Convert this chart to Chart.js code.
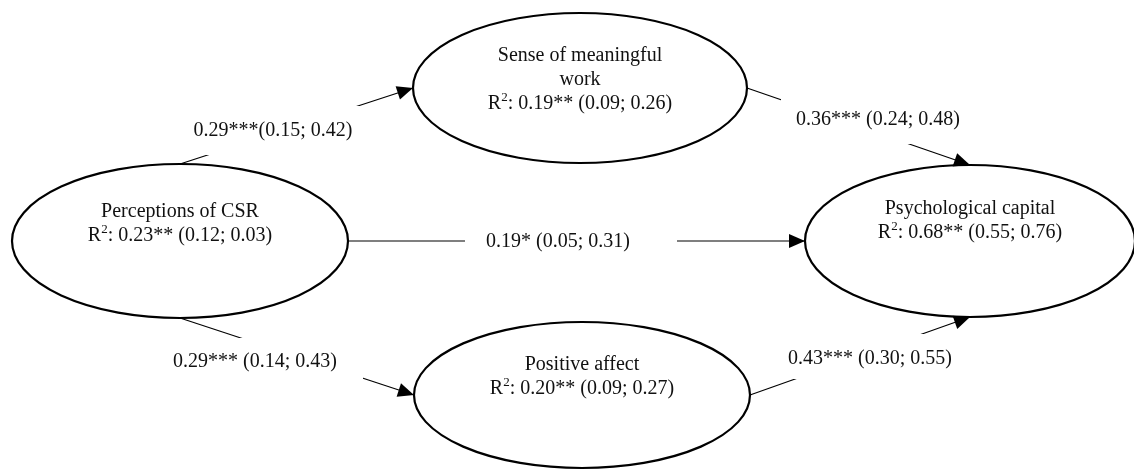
<!DOCTYPE html>
<html>
<head>
<meta charset="utf-8">
<script src="https://cdn.jsdelivr.net/npm/chart.js"></script>
<style>
  body { margin: 0; background: #fff; }
  .wrap { width: 1134px; height: 472px; position: relative; }
</style>
</head>
<body>
<div class="wrap"><canvas id="model"></canvas></div>
<script>
// constructs and their R2 (with CI)
const nodeNames = ['Perceptions of CSR', 'Sense of meaningful\nwork', 'Positive affect', 'Psychological capital'];
const nodeR2 = ['0.23** (0.12; 0.03)', '0.19** (0.09; 0.26)', '0.20** (0.09; 0.27)', '0.68** (0.55; 0.76)'];

// paths between constructs
const pathFrom = [0, 1, 0, 0, 2];
const pathTo = [1, 3, 3, 2, 3];
const pathFromSide = ['top', 'right', 'right', 'bottom', 'right'];
const pathToSide = ['left', 'top', 'left', 'left', 'bottom'];
const pathLabels = ['0.29***(0.15; 0.42)', '0.36*** (0.24; 0.48)', '0.19* (0.05; 0.31)', '0.29*** (0.14; 0.43)', '0.43*** (0.30; 0.55)'];

// layout (diagram units = px of the 1134x472 picture)
const nodeLayout = [
  { x: 180, y: 241, rx: 168, ry: 77, textY: 217 },
  { x: 580, y: 88, rx: 167, ry: 75, textY: 61 },
  { x: 582, y: 395, rx: 168, ry: 73, textY: 370 },
  { x: 970, y: 241, rx: 165, ry: 76, textY: 214 }
];
const labelLayout = [
  { tx: 273, ty: 136, box: [188, 106, 361, 155] },
  { tx: 878, ty: 125, box: [781, 99, 965, 144] },
  { tx: 558, ty: 247, box: [465, 230, 677, 254] },
  { tx: 255, ty: 367, box: [168, 338, 363, 380] },
  { tx: 870, ty: 364, box: [780, 334, 960, 379] }
];
const FONT = '"Liberation Serif", "Times New Roman", serif';

function anchor(i, side) {
  const n = nodeLayout[i];
  if (side === 'top') return { x: n.x, y: n.y - n.ry };
  if (side === 'bottom') return { x: n.x, y: n.y + n.ry };
  if (side === 'left') return { x: n.x - n.rx, y: n.y };
  return { x: n.x + n.rx, y: n.y };
}

const pathData = pathFrom.map((f, k) => [anchor(f, pathFromSide[k]), anchor(pathTo[k], pathToSide[k])]);

const diagramPlugin = {
  id: 'diagram',
  afterDatasetsDraw(chart) {
    const ctx = chart.ctx;
    const sx = chart.scales.x, sy = chart.scales.y;
    const px = v => sx.getPixelForValue(v);
    const py = v => sy.getPixelForValue(v);
    ctx.save();

    // label boxes (white) and label text
    labelLayout.forEach((l, k) => {
      ctx.fillStyle = '#fff';
      ctx.fillRect(px(l.box[0]), py(l.box[1]), px(l.box[2]) - px(l.box[0]), py(l.box[3]) - py(l.box[1]));
      ctx.fillStyle = '#111';
      ctx.font = '20px ' + FONT;
      ctx.textAlign = 'center';
      ctx.textBaseline = 'alphabetic';
      ctx.fillText(pathLabels[k], px(l.tx), py(l.ty));
    });

    // ellipses
    nodeLayout.forEach(n => {
      ctx.beginPath();
      ctx.ellipse(px(n.x), py(n.y), px(n.x + n.rx) - px(n.x), py(n.y + n.ry) - py(n.y), 0, 0, Math.PI * 2);
      ctx.fillStyle = '#fff';
      ctx.fill();
      ctx.lineWidth = 2.2;
      ctx.strokeStyle = '#000';
      ctx.stroke();
    });

    // node text
    nodeLayout.forEach((n, i) => {
      const lines = nodeNames[i].split('\n');
      let y = py(n.textY);
      ctx.fillStyle = '#111';
      ctx.textBaseline = 'alphabetic';
      ctx.font = '20px ' + FONT;
      ctx.textAlign = 'center';
      lines.forEach(t => { ctx.fillText(t, px(n.x), y); y += 24; });
      // R2 line with superscript
      const rest = ': ' + nodeR2[i];
      ctx.font = '20px ' + FONT;
      const wR = ctx.measureText('R').width, wRest = ctx.measureText(rest).width;
      ctx.font = '13px ' + FONT;
      const w2 = ctx.measureText('2').width;
      let x0 = px(n.x) - (wR + w2 + wRest) / 2;
      ctx.textAlign = 'left';
      ctx.font = '20px ' + FONT;
      ctx.fillText('R', x0, y);
      ctx.font = '13px ' + FONT;
      ctx.fillText('2', x0 + wR, y - 8);
      ctx.font = '20px ' + FONT;
      ctx.fillText(rest, x0 + wR + w2, y);
    });

    // arrowheads
    pathData.forEach(seg => {
      const a = { x: px(seg[0].x), y: py(seg[0].y) }, b = { x: px(seg[1].x), y: py(seg[1].y) };
      const ang = Math.atan2(b.y - a.y, b.x - a.x);
      const len = 16, half = 7;
      ctx.beginPath();
      ctx.moveTo(b.x, b.y);
      ctx.lineTo(b.x - len * Math.cos(ang) + half * Math.sin(ang), b.y - len * Math.sin(ang) - half * Math.cos(ang));
      ctx.lineTo(b.x - len * Math.cos(ang) - half * Math.sin(ang), b.y - len * Math.sin(ang) + half * Math.cos(ang));
      ctx.closePath();
      ctx.fillStyle = '#000';
      ctx.fill();
    });
    ctx.restore();
  }
};

new Chart(document.getElementById('model'), {
  type: 'scatter',
  data: {
    datasets: pathData.map((seg, k) => ({
      label: pathLabels[k],
      data: seg,
      showLine: true,
      borderColor: '#000',
      borderWidth: 1.2,
      pointRadius: 0
    }))
  },
  options: {
    responsive: true,
    maintainAspectRatio: false,
    animation: false,
    layout: { padding: 0 },
    plugins: { legend: { display: false }, tooltip: { enabled: false } },
    scales: {
      x: { type: 'linear', min: 0, max: 1134, display: false },
      y: { type: 'linear', min: 0, max: 472, reverse: true, display: false }
    }
  },
  plugins: [diagramPlugin]
});
</script>
</body>
</html>
